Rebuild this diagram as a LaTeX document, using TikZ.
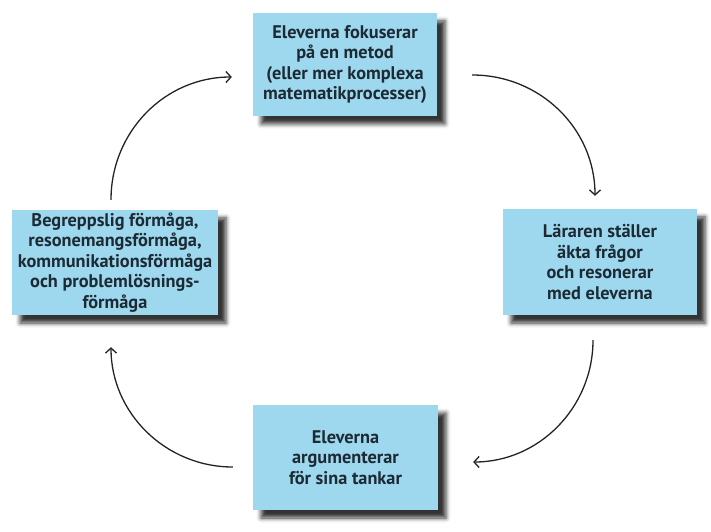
\documentclass[tikz,border=0pt]{standalone}
\usepackage{fontspec}
\setmainfont{PT Sans}
\usetikzlibrary{arrows.meta,shadows.blur}
\definecolor{boxblue}{RGB}{157,216,238}
\definecolor{txt}{RGB}{29,42,51}
\definecolor{arrowcol}{RGB}{35,35,35}
\tikzset{
  box/.style={fill=boxblue, draw=none, text=txt, align=center,
    font=\fontsize{18.3}{20.5}\selectfont\bfseries, inner sep=0pt,
    blur shadow={shadow xshift=8pt, shadow yshift=-8pt, shadow blur radius=4.5pt, shadow opacity=80}},
  arr/.style={draw=arrowcol, line width=1.3pt, -{Straight Barb[length=5pt,width=11pt,line width=1.3pt]}}
}
\begin{document}
\begin{tikzpicture}[x=1pt,y=1pt]
\useasboundingbox (0,0) rectangle (711,531);
\node[box, minimum width=184pt, minimum height=103pt] (T) at (345,466.5)
  {Eleverna fokuserar\\på en metod\\(eller mer komplexa\\matematikprocesser)};
\node[box, minimum width=206pt, minimum height=105pt] (L) at (115,268.5)
  {Begreppslig förmåga,\\resonemangsförmåga,\\kommunikationsförmåga\\och problemlösnings-\\förmåga};
\node[box, minimum width=194pt, minimum height=106pt] (R) at (600,269)
  {Läraren ställer\\äkta frågor\\och resonerar\\med eleverna};
\node[box, minimum width=185pt, minimum height=105pt] (B) at (345.5,73.5)
  {Eleverna\\argumenterar\\för sina tankar};
\draw[arr] ([xshift=-4pt,yshift=10pt]L.north) .. controls +(0,68) and +(-67,0) .. ([xshift=-21pt,yshift=-12.5pt]T.west);
\draw[arr] ([xshift=35pt,yshift=-10.5pt]T.east) .. controls +(68,0) and +(0,67) .. ([xshift=-5pt,yshift=13pt]R.north);
\draw[arr] ([xshift=-7pt,yshift=-25pt]R.south) .. controls +(0,-67) and +(66,0) .. ([xshift=35pt,yshift=-4.5pt]B.east);
\draw[arr] ([xshift=-20pt,yshift=-9.5pt]B.west) .. controls +(-67,0) and +(0,-66) .. ([xshift=-4pt,yshift=-32pt]L.south);
\end{tikzpicture}
\end{document}
